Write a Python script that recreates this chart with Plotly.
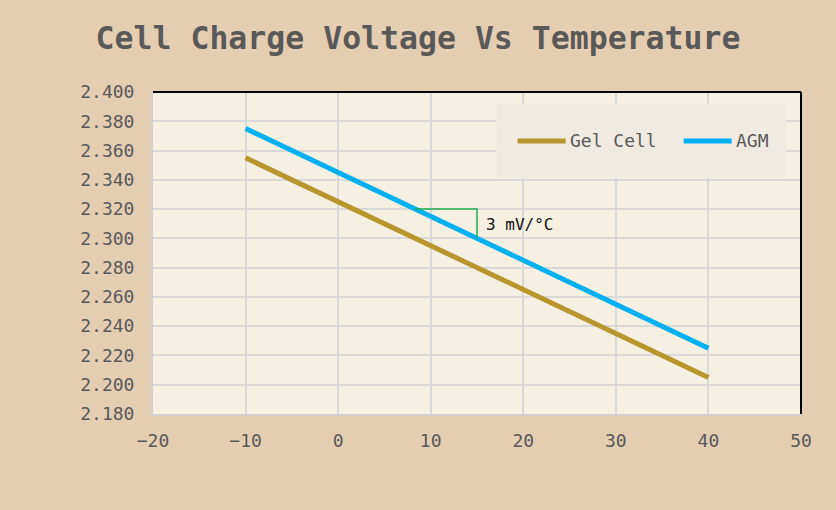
import plotly.graph_objects as go

temps = [-10, 0, 10, 20, 30, 40]
gel_cell = [2.355, 2.325, 2.295, 2.265, 2.235, 2.205]
agm = [2.375, 2.345, 2.315, 2.285, 2.255, 2.225]
series_names = ["Gel Cell", "AGM"]
series_colors = ["#B8962E", "#00B0F0"]
x_ticks = [-20, -10, 0, 10, 20, 30, 40, 50]
y_ticks = [2.18, 2.20, 2.22, 2.24, 2.26, 2.28, 2.30, 2.32, 2.34, 2.36, 2.38, 2.40]
slope_x = [8.33, 15, 15]
slope_y = [2.320, 2.320, 2.300]
slope_label = "3 mV/°C"

FONT = "DejaVu Sans Mono"
TXT = "#595959"

fig = go.Figure()
for name, vals, col in zip(series_names, [gel_cell, agm], series_colors):
    fig.add_trace(go.Scatter(x=temps, y=vals, mode="lines", name=name,
                             line=dict(color=col, width=5), showlegend=False))

fig.add_trace(go.Scatter(x=slope_x, y=slope_y, mode="lines",
                         line=dict(color="#1FAE4F", width=1.5), showlegend=False,
                         hoverinfo="skip"))

fig.add_annotation(x=slope_x[-1], y=(slope_y[0] + slope_y[-1]) / 2, text=slope_label,
                   showarrow=False, xanchor="left", yanchor="middle", xshift=7, yshift=-1,
                   font=dict(family=FONT, size=16, color="#111111"))

# legend (drawn inside the plot)
shapes = [
    dict(type="rect", xref="paper", yref="paper", x0=0.530, x1=0.977, y0=0.733, y1=0.963,
         fillcolor="#EFEBE3", line=dict(width=0), layer="above"),
]
leg = [(0.5626, 0.6368, 0.640), (0.819, 0.893, 0.896)]
for (x0, x1, tx), name, col in zip(leg, series_names, series_colors):
    shapes.append(dict(type="line", xref="paper", yref="paper", x0=x0, x1=x1, y0=0.848, y1=0.848,
                       line=dict(color=col, width=5), layer="above"))
    fig.add_annotation(xref="paper", yref="paper", x=tx, y=0.848, text=name, showarrow=False,
                       xanchor="left", yanchor="middle", font=dict(family=FONT, size=18, color=TXT))

# top/right black borders
shapes.append(dict(type="line", xref="paper", yref="paper", x0=0, x1=1, y0=1, y1=1,
                   line=dict(color="black", width=2)))
shapes.append(dict(type="line", xref="paper", yref="paper", x0=1, x1=1, y0=0, y1=1,
                   line=dict(color="black", width=2)))

fig.update_layout(
    width=836, height=510,
    margin=dict(l=153, r=35, t=92, b=96),
    paper_bgcolor="#E4CDB0",
    plot_bgcolor="#F6F0E2",
    title=dict(text="<b>Cell Charge Voltage Vs Temperature</b>", x=0.5, xanchor="center",
               y=0.925, yanchor="middle",
               font=dict(family=FONT, size=31.5, color=TXT)),
    shapes=shapes,
    xaxis=dict(range=[-20, 50], tickvals=x_ticks, showgrid=True, gridcolor="#D9D9D9", gridwidth=2,
               zeroline=False, showline=True, linecolor="#D0D0D0", linewidth=2,
               ticks="outside", ticklen=9, tickcolor="rgba(0,0,0,0)",
               tickfont=dict(family=FONT, size=18, color=TXT)),
    yaxis=dict(range=[2.18, 2.40], tickvals=y_ticks, tickformat=".3f", showgrid=True,
               gridcolor="#D9D9D9", gridwidth=2, zeroline=False, showline=True,
               linecolor="#D0D0D0", linewidth=2,
               ticks="outside", ticklen=13, tickcolor="rgba(0,0,0,0)",
               tickfont=dict(family=FONT, size=18, color=TXT)),
)

fig.write_html("out.html")
